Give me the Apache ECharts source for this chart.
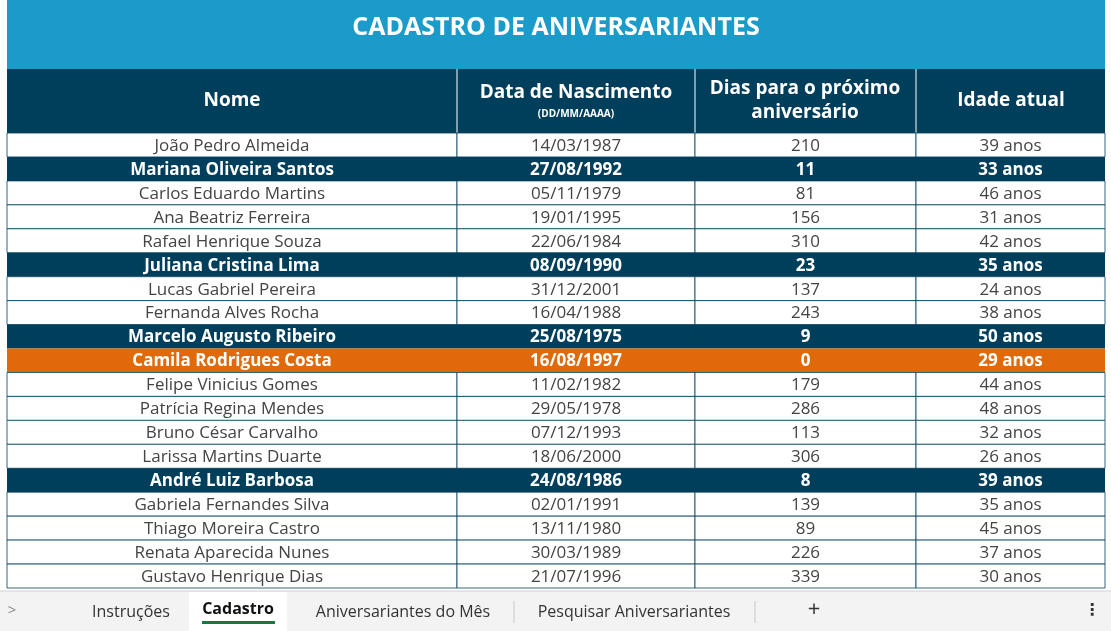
<!DOCTYPE html>
<html><head><meta charset="utf-8">
<script src="https://cdn.jsdelivr.net/npm/echarts@6/dist/echarts.min.js"></script>
<style>html,body{margin:0;padding:0;background:#fff}#c{width:1111px;height:631px}</style>
</head><body><div id="c"></div>
<script>
const names = ["João Pedro Almeida","Mariana Oliveira Santos","Carlos Eduardo Martins","Ana Beatriz Ferreira","Rafael Henrique Souza","Juliana Cristina Lima","Lucas Gabriel Pereira","Fernanda Alves Rocha","Marcelo Augusto Ribeiro","Camila Rodrigues Costa","Felipe Vinicius Gomes","Patrícia Regina Mendes","Bruno César Carvalho","Larissa Martins Duarte","André Luiz Barbosa","Gabriela Fernandes Silva","Thiago Moreira Castro","Renata Aparecida Nunes","Gustavo Henrique Dias"];
const births = ["14/03/1987","27/08/1992","05/11/1979","19/01/1995","22/06/1984","08/09/1990","31/12/2001","16/04/1988","25/08/1975","16/08/1997","11/02/1982","29/05/1978","07/12/1993","18/06/2000","24/08/1986","02/01/1991","13/11/1980","30/03/1989","21/07/1996"];
const daysToBirthday = [210,11,81,156,310,23,137,243,9,0,179,286,113,306,8,139,89,226,339];
const ages = [39,33,46,31,42,35,24,38,50,29,44,48,32,26,39,35,45,37,30];
const headers = ["Nome","Data de Nascimento","Dias para o próximo\naniversário","Idade atual"];
const colEdges = [0,450,688,909,1098];
const tabs = ["Instruções","Cadastro","Aniversariantes do Mês","Pesquisar Aniversariantes"];

const DARK="#003f5c", ORANGE="#e06a0a", BLUE="#1a9bc9";
const rowIdx = names.map((_,i)=>i);
const data=[];
rowIdx.forEach(r=>{for(let c=0;c<4;c++)data.push([c,r]);});
function cellText(c,r){
  if(c===0)return names[r]; if(c===1)return births[r];
  if(c===2)return String(daysToBirthday[r]); return ages[r]+" anos";
}
const chart=echarts.init(document.getElementById('c'));
chart.setOption({
  animation:false,
  grid:{left:7,right:6,top:133,bottom:43},
  xAxis:{type:'value',min:0,max:1098,show:false},
  yAxis:{type:'category',data:rowIdx,inverse:true,show:false},
  series:[{type:'custom',data:data,renderItem:function(params,api){
    const c=api.value(0), r=api.value(1);
    const p0=api.coord([colEdges[c],r]), p1=api.coord([colEdges[c+1],r]);
    const h=api.size([0,1])[1];
    const y=p0[1]-h/2, x=p0[0], w=p1[0]-p0[0];
    const d=daysToBirthday[r];
    const hl = d===0?ORANGE:(d<=30?DARK:null);
    return {type:'group',children:[
      {type:'rect',shape:{x:x,y:y,width:w,height:h},style:{fill:hl||'#fff',stroke:DARK,lineWidth:hl?0:0.8}},
      {type:'text',style:{x:x+w/2,y:y+h/2+1,text:cellText(c,r),align:'center',verticalAlign:'middle',
        fill:hl?'#fff':'#444',font:(hl?'bold ':'')+'17px "Open Sans"'}}
    ]};
  }}],
  graphic:[
    {type:'rect',shape:{x:7,y:0,width:1098,height:69},style:{fill:BLUE}},
    {type:'text',style:{x:556,y:28,text:"CADASTRO DE ANIVERSARIANTES",align:'center',verticalAlign:'middle',fill:'#fff',font:'bold 25px "Open Sans"'}},
    {type:'rect',shape:{x:7,y:69,width:1098,height:64},style:{fill:DARK}},
    {type:'line',shape:{x1:457,y1:69,x2:457,y2:133},style:{stroke:'#fff',lineWidth:1}},
    {type:'line',shape:{x1:695,y1:69,x2:695,y2:133},style:{stroke:'#fff',lineWidth:1}},
    {type:'line',shape:{x1:916,y1:69,x2:916,y2:133},style:{stroke:'#fff',lineWidth:1}},
    {type:'text',style:{x:232,y:101,text:headers[0],align:'center',verticalAlign:'middle',fill:'#fff',font:'bold 19px "Open Sans"'}},
    {type:'text',style:{x:576,y:93,text:headers[1],align:'center',verticalAlign:'middle',fill:'#fff',font:'bold 19px "Open Sans"'}},
    {type:'text',style:{x:576,y:114,text:"(DD/MM/AAAA)",align:'center',verticalAlign:'middle',fill:'#fff',font:'bold 10px "Open Sans"'}},
    {type:'text',style:{x:805,y:101,text:headers[2],align:'center',verticalAlign:'middle',fill:'#fff',font:'bold 19px "Open Sans"',lineHeight:24}},
    {type:'text',style:{x:1011,y:101,text:headers[3],align:'center',verticalAlign:'middle',fill:'#fff',font:'bold 19px "Open Sans"'}},
    {type:'rect',shape:{x:0,y:591,width:1111,height:40},style:{fill:'#f3f3f3'}},
    {type:'line',shape:{x1:0,y1:591,x2:1111,y2:591},style:{stroke:'#d0d0d0'}},
    {type:'text',style:{x:12,y:611,text:">",align:'center',verticalAlign:'middle',fill:'#888',font:'15px "Open Sans"'}},
    {type:'text',style:{x:131,y:612,text:tabs[0],align:'center',verticalAlign:'middle',fill:'#333',font:'16px "Open Sans"'}},
    {type:'rect',shape:{x:189,y:592,width:98,height:39},style:{fill:'#fff'}},
    {type:'text',style:{x:238,y:609,text:tabs[1],align:'center',verticalAlign:'middle',fill:'#111',font:'bold 16px "Open Sans"'}},
    {type:'rect',shape:{x:202,y:621,width:73,height:3},style:{fill:'#107c41'}},
    {type:'text',style:{x:403,y:612,text:tabs[2],align:'center',verticalAlign:'middle',fill:'#333',font:'16px "Open Sans"'}},
    {type:'line',shape:{x1:514,y1:601,x2:514,y2:623},style:{stroke:'#c8c8c8'}},
    {type:'text',style:{x:634,y:612,text:tabs[3],align:'center',verticalAlign:'middle',fill:'#333',font:'16px "Open Sans"'}},
    {type:'line',shape:{x1:755,y1:601,x2:755,y2:623},style:{stroke:'#c8c8c8'}},
    {type:'text',style:{x:814,y:610,text:"+",align:'center',verticalAlign:'middle',fill:'#333',font:'22px "Open Sans"'}},
    {type:'text',style:{x:1092,y:611,text:"⋮",align:'center',verticalAlign:'middle',fill:'#333',font:'bold 16px "DejaVu Sans"'}}
  ]
});
</script></body></html>
